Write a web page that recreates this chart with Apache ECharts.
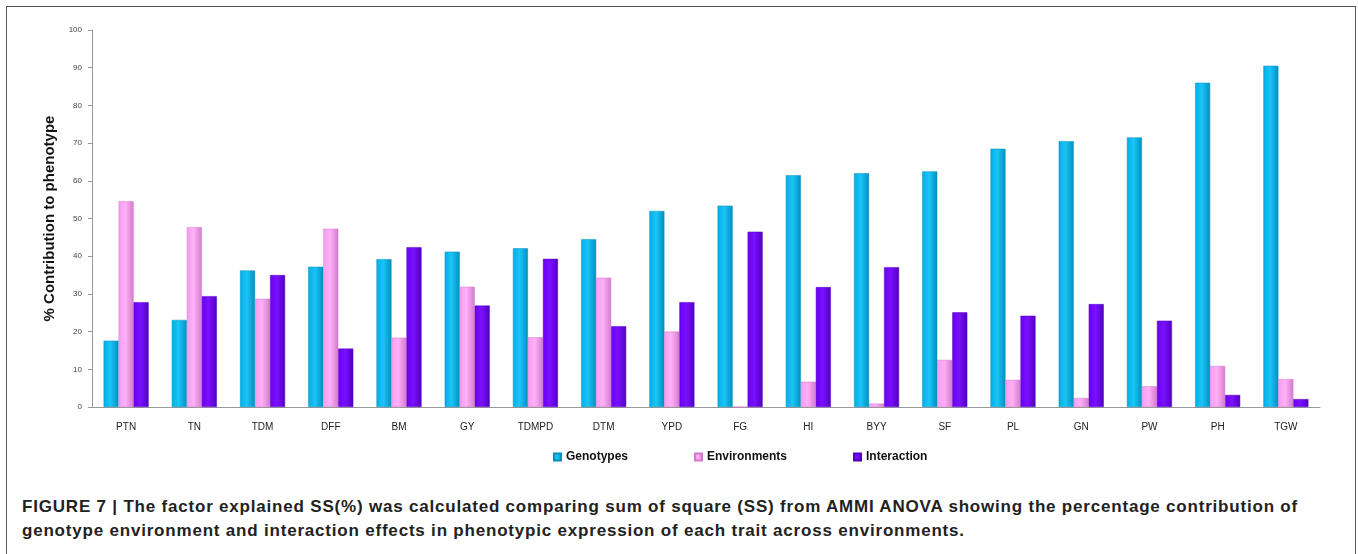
<!DOCTYPE html>
<html>
<head>
<meta charset="utf-8">
<script src="https://cdn.jsdelivr.net/npm/echarts@6/dist/echarts.min.js"></script>
<style>
html, body { margin: 0; padding: 0; background: #fff; }
.figure {
  position: relative;
  width: 1358px;
  height: 554px;
  overflow: hidden;
}
.frame {
  position: absolute;
  left: 6px;
  top: 6px;
  width: 1348px;
  height: 560px;
  border: 1px solid #555;
}
.chart {
  position: absolute;
  left: 0;
  top: 0;
  width: 1358px;
  height: 480px;
}
.caption {
  position: absolute;
  left: 22px;
  top: 495px;
  width: 1330px;
  font-family: "Liberation Sans", Arial, sans-serif;
  font-weight: bold;
  font-size: 17px;
  letter-spacing: 0.8px;
  line-height: 24px;
  color: #222;
  white-space: nowrap;
}
</style>
</head>
<body>
<div class="figure">
  <div class="frame"></div>
  <div id="chart" class="chart"></div>
  <div class="caption">FIGURE 7 | The factor explained SS(%) was calculated comparing sum of square (SS) from AMMI ANOVA showing the percentage contribution of<br>genotype environment and interaction effects in phenotypic expression of each trait across environments.</div>
</div>
<script>
// traits
const traits = ['PTN', 'TN', 'TDM', 'DFF', 'BM', 'GY', 'TDMPD', 'DTM', 'YPD', 'FG', 'HI', 'BYY', 'SF', 'PL', 'GN', 'PW', 'PH', 'TGW']
// % contribution
const genotypes = [17.6, 23.1, 36.2, 37.2, 39.2, 41.2, 42.1, 44.5, 52.0, 53.4, 61.5, 62.0, 62.5, 68.5, 70.5, 71.5, 86.0, 90.5]
const environments = [54.6, 47.7, 28.7, 47.3, 18.4, 31.9, 18.5, 34.3, 20.0, 0, 6.7, 0.9, 12.5, 7.2, 2.4, 5.5, 10.9, 7.4]
const interaction = [27.8, 29.4, 35.0, 15.5, 42.4, 26.9, 39.3, 21.4, 27.8, 46.5, 31.8, 37.1, 25.1, 24.2, 27.3, 22.9, 3.2, 2.1]

function barStyle(light, mid, dark) {
  return {
    color: new echarts.graphic.LinearGradient(0, 0, 1, 0, [
      { offset: 0, color: mid },
      { offset: 0.45, color: light },
      { offset: 1, color: dark }
    ]),
    borderColor: dark,
    borderWidth: 0.5
  }
}

const myChart = echarts.init(document.getElementById('chart'))
const option = {
  animation: false,
  textStyle: { fontFamily: 'Liberation Sans, Arial, sans-serif' },
  legend: {
    data: ['Genotypes', 'Environments', 'Interaction'],
    left: 548,
    top: 446,
    itemWidth: 7,
    itemHeight: 7,
    itemGap: 66,
    icon: 'rect',
    textStyle: { fontSize: 12, fontWeight: 'bold', color: '#111' }
  },
  grid: {
    left: 92,
    right: 38,
    top: 30,
    bottom: 73,
    containLabel: false
  },
  xAxis: {
    type: 'category',
    data: traits,
    axisLine: { lineStyle: { color: '#999' } },
    axisTick: { show: false },
    axisLabel: { color: '#222', fontSize: 10, margin: 15 }
  },
  yAxis: {
    type: 'value',
    min: 0,
    max: 100,
    interval: 10,
    name: '% Contribution to phenotype',
    nameLocation: 'middle',
    nameGap: 34,
    nameTextStyle: { fontSize: 15, fontWeight: 'bold', color: '#111' },
    axisLine: { show: true, lineStyle: { color: '#999' } },
    axisTick: { show: true, length: 4, lineStyle: { color: '#999' } },
    axisLabel: { color: '#444', fontSize: 8, margin: 10 },
    splitLine: { show: false }
  },
  series: [
    {
      name: 'Genotypes',
      type: 'bar',
      barGap: '0%',
      barCategoryGap: '34%',
      itemStyle: barStyle('#1cc4f6', '#00aee8', '#0090c0'),
      data: genotypes
    },
    {
      name: 'Environments',
      type: 'bar',
      itemStyle: barStyle('#ffb0f8', '#f79cef', '#d47acc'),
      data: environments
    },
    {
      name: 'Interaction',
      type: 'bar',
      itemStyle: barStyle('#7a10ff', '#6a00f5', '#5200c0'),
      data: interaction
    }
  ]
}
myChart.setOption(option)
window.addEventListener('resize', function() {
  myChart.resize()
})
</script>
</body>
</html>
